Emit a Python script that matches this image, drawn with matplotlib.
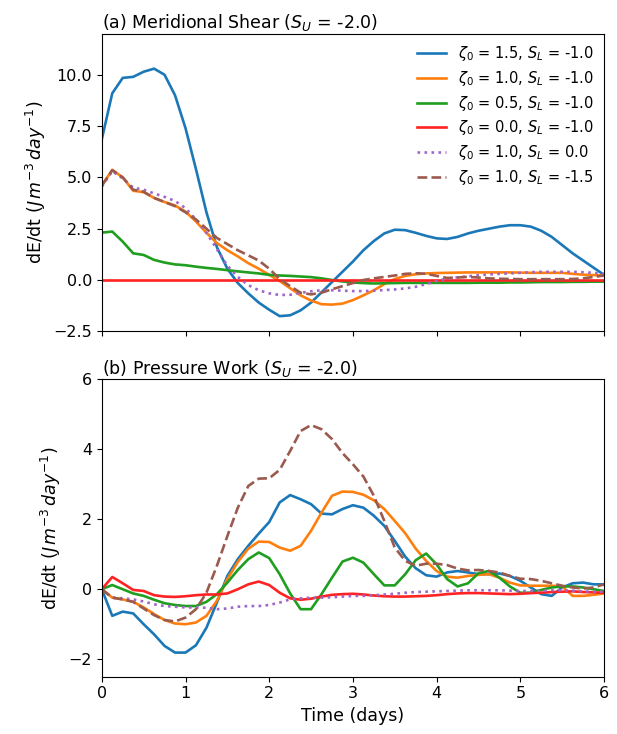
import numpy as np
import matplotlib
matplotlib.use("Agg")
import matplotlib.pyplot as plt

# time axis: output every 3 h over 6 days
time_days = np.linspace(0, 6, 49)

labels = [
    r"$\zeta_0$ = 1.5, $S_L$ = -1.0",
    r"$\zeta_0$ = 1.0, $S_L$ = -1.0",
    r"$\zeta_0$ = 0.5, $S_L$ = -1.0",
    r"$\zeta_0$ = 0.0, $S_L$ = -1.0",
    r"$\zeta_0$ = 1.0, $S_L$ = 0.0",
    r"$\zeta_0$ = 1.0, $S_L$ = -1.5",
]

# (a) meridional shear term
shear_z15 = [6.86, 9.1, 9.85, 9.9, 10.15, 10.3, 10.0, 9.0, 7.4, 5.4, 3.3, 1.6, 0.55,
             -0.15, -0.65, -1.1, -1.45, -1.76, -1.72, -1.48, -1.1, -0.6, -0.1, 0.4,
             0.9, 1.45, 1.9, 2.27, 2.45, 2.43, 2.3, 2.15, 2.03, 2.0, 2.1, 2.27, 2.4,
             2.5, 2.6, 2.67, 2.67, 2.6, 2.4, 2.1, 1.7, 1.3, 0.95, 0.6, 0.25]
shear_z10 = [4.6, 5.37, 5.0, 4.35, 4.28, 4.0, 3.8, 3.63, 3.33, 2.85, 2.3, 1.8, 1.45,
             1.15, 0.82, 0.55, 0.25, -0.05, -0.4, -0.75, -1.0, -1.18, -1.2, -1.15,
             -0.98, -0.75, -0.5, -0.2, 0.05, 0.2, 0.28, 0.32, 0.34, 0.35, 0.36, 0.37,
             0.37, 0.37, 0.37, 0.37, 0.36, 0.35, 0.35, 0.35, 0.35, 0.3, 0.26, 0.24, 0.22]
shear_z05 = [2.31, 2.36, 1.87, 1.3, 1.22, 0.98, 0.85, 0.76, 0.72, 0.65, 0.59, 0.54, 0.48,
             0.42, 0.37, 0.32, 0.25, 0.22, 0.2, 0.17, 0.14, 0.08, 0.0, -0.07, -0.12,
             -0.15, -0.17, -0.16, -0.15, -0.14, -0.14, -0.14, -0.14, -0.14, -0.14, -0.14,
             -0.13, -0.13, -0.13, -0.12, -0.12, -0.11, -0.1, -0.1, -0.1, -0.09, -0.09,
             -0.08, -0.08]
shear_z00 = [0.0, 0.0, 0.0, 0.0, 0.0, 0.0, 0.0, 0.0, 0.0, 0.0, 0.0, 0.0, 0.0,
             0.0, 0.0, 0.0, 0.0, 0.0, 0.0, 0.0, 0.0, 0.0, 0.0, 0.0, 0.0,
             0.0, 0.0, 0.0, 0.0, 0.0, 0.0, 0.0, 0.0, 0.0, 0.0, 0.0, 0.0,
             0.0, 0.0, 0.0, 0.0, 0.0, 0.0, 0.0, 0.0, 0.0, 0.0, 0.0, 0.0]
shear_sl00 = [4.55, 5.3, 4.95, 4.5, 4.4, 4.22, 4.05, 3.85, 3.5, 2.95, 2.3, 1.5, 0.7,
              0.15, -0.25, -0.5, -0.65, -0.73, -0.72, -0.63, -0.55, -0.5, -0.5, -0.52,
              -0.54, -0.54, -0.52, -0.49, -0.46, -0.41, -0.33, -0.2, -0.05, 0.07, 0.13,
              0.18, 0.23, 0.27, 0.3, 0.32, 0.35, 0.38, 0.4, 0.4, 0.4, 0.4, 0.38, 0.35, 0.3]
shear_sl15 = [4.6, 5.35, 5.0, 4.4, 4.3, 4.0, 3.8, 3.6, 3.3, 2.95, 2.5, 2.05, 1.75,
              1.45, 1.2, 0.95, 0.55, 0.05, -0.3, -0.62, -0.7, -0.62, -0.45, -0.3,
              -0.15, 0.0, 0.08, 0.15, 0.22, 0.3, 0.33, 0.3, 0.2, 0.1, 0.12, 0.15, 0.12,
              0.08, 0.06, 0.05, 0.04, 0.04, 0.04, 0.04, 0.04, 0.05, 0.08, 0.15, 0.22]

# (b) pressure work term
press_z15 = [0.0, -0.76, -0.64, -0.69, -1.0, -1.29, -1.62, -1.81, -1.81, -1.6, -1.1,
             -0.38, 0.38, 0.86, 1.24, 1.59, 1.92, 2.48, 2.69, 2.57, 2.43, 2.16, 2.14,
             2.29, 2.4, 2.33, 2.1, 1.81, 1.38, 0.93, 0.6, 0.4, 0.36, 0.48, 0.52, 0.48,
             0.43, 0.43, 0.45, 0.38, 0.24, 0.05, -0.14, -0.19, 0.05, 0.17, 0.19, 0.14, 0.14]
press_z10 = [0.0, -0.24, -0.29, -0.36, -0.52, -0.71, -0.88, -0.98, -1.0, -0.95, -0.76,
             -0.33, 0.29, 0.78, 1.16, 1.36, 1.35, 1.19, 1.1, 1.24, 1.67, 2.19, 2.67,
             2.79, 2.78, 2.7, 2.54, 2.29, 1.95, 1.6, 1.16, 0.81, 0.52, 0.36, 0.33, 0.38,
             0.41, 0.43, 0.33, 0.19, 0.11, 0.1, 0.1, 0.1, 0.08, -0.19, -0.19, -0.16, -0.12]
press_z05 = [0.0, 0.12, 0.0, -0.12, -0.19, -0.3, -0.4, -0.45, -0.48, -0.48, -0.36,
             -0.14, 0.19, 0.55, 0.86, 1.05, 0.89, 0.43, -0.12, -0.57, -0.57, -0.14, 0.33,
             0.79, 0.9, 0.76, 0.43, 0.11, 0.11, 0.43, 0.83, 1.02, 0.71, 0.29, 0.08, 0.17,
             0.46, 0.52, 0.33, 0.08, -0.1, -0.1, -0.02, 0.05, 0.08, 0.08, 0.05, 0.0, -0.05]
press_z00 = [0.0, 0.35, 0.17, -0.02, -0.05, -0.17, -0.21, -0.22, -0.2, -0.17, -0.15,
             -0.15, -0.12, 0.0, 0.14, 0.22, 0.12, -0.1, -0.26, -0.3, -0.27, -0.21, -0.16,
             -0.14, -0.13, -0.15, -0.18, -0.2, -0.21, -0.21, -0.2, -0.19, -0.17, -0.14,
             -0.12, -0.11, -0.11, -0.12, -0.13, -0.14, -0.13, -0.11, -0.1, -0.08, -0.07,
             -0.06, -0.08, -0.09, -0.1]
press_sl00 = [0.0, -0.24, -0.26, -0.29, -0.35, -0.43, -0.48, -0.5, -0.52, -0.52, -0.53,
              -0.57, -0.55, -0.5, -0.48, -0.48, -0.45, -0.38, -0.29, -0.26, -0.24, -0.24,
              -0.23, -0.21, -0.19, -0.19, -0.17, -0.15, -0.13, -0.1, -0.08, -0.07, -0.06,
              -0.05, -0.04, -0.03, -0.03, -0.03, -0.03, -0.04, -0.05, -0.05, -0.04, -0.03,
              -0.03, -0.04, -0.06, -0.07, -0.07]
press_sl15 = [0.0, -0.24, -0.29, -0.36, -0.55, -0.74, -0.88, -0.92, -0.81, -0.57, -0.1,
              0.67, 1.52, 2.33, 2.95, 3.16, 3.17, 3.41, 3.95, 4.52, 4.69, 4.57, 4.29, 3.89,
              3.57, 3.22, 2.67, 1.95, 1.19, 0.81, 0.67, 0.73, 0.73, 0.69, 0.59, 0.54, 0.55,
              0.52, 0.48, 0.38, 0.3, 0.29, 0.24, 0.17, 0.1, 0.05, 0.02, 0.05, 0.14]

colors = ["#1a78b8", "#ff7f0e", "#1f9e1f", "#ff2222", "#9f66c8", "#9a5a4e"]
styles = ["-", "-", "-", "-", ":", "--"]

shear = [shear_z15, shear_z10, shear_z05, shear_z00, shear_sl00, shear_sl15]
press = [press_z15, press_z10, press_z05, press_z00, press_sl00, press_sl15]

fig, (ax_a, ax_b) = plt.subplots(2, 1, figsize=(6.17, 7.34), dpi=100, sharex=True)
fig.subplots_adjust(left=0.165, right=0.979, bottom=0.078, top=0.954, hspace=0.161)

for ys, c, ls, lab in zip(shear, colors, styles, labels):
    ax_a.plot(time_days, ys, color=c, linestyle=ls, lw=1.9, label=lab)
for ys, c, ls in zip(press, colors, styles):
    ax_b.plot(time_days, ys, color=c, linestyle=ls, lw=1.9)

ylab = r"dE/dt ($J\,m^{-3}\,day^{-1}$)"

ax_a.set_ylim(-2.5, 12)
ax_a.set_yticks([-2.5, 0.0, 2.5, 5.0, 7.5, 10.0])
ax_a.set_ylabel(ylab, fontsize=12.5)
ax_a.set_title(r"(a) Meridional Shear ($S_U$ = -2.0)", loc="left", fontsize=12.5, pad=4)
ax_a.legend(loc="upper right", frameon=False, fontsize=10.5, borderaxespad=0.3,
            labelspacing=0.4)

ax_b.set_ylim(-2.5, 6)
ax_b.set_yticks([-2, 0, 2, 4, 6])
ax_b.set_xlim(0, 6)
ax_b.set_ylabel(ylab, fontsize=12.5)
ax_b.set_xlabel("Time (days)", fontsize=12.5)
ax_b.set_title(r"(b) Pressure Work ($S_U$ = -2.0)", loc="left", fontsize=12.5, pad=4)

for ax in (ax_a, ax_b):
    ax.tick_params(labelsize=11.5)

fig.savefig("out.png", dpi=100)
